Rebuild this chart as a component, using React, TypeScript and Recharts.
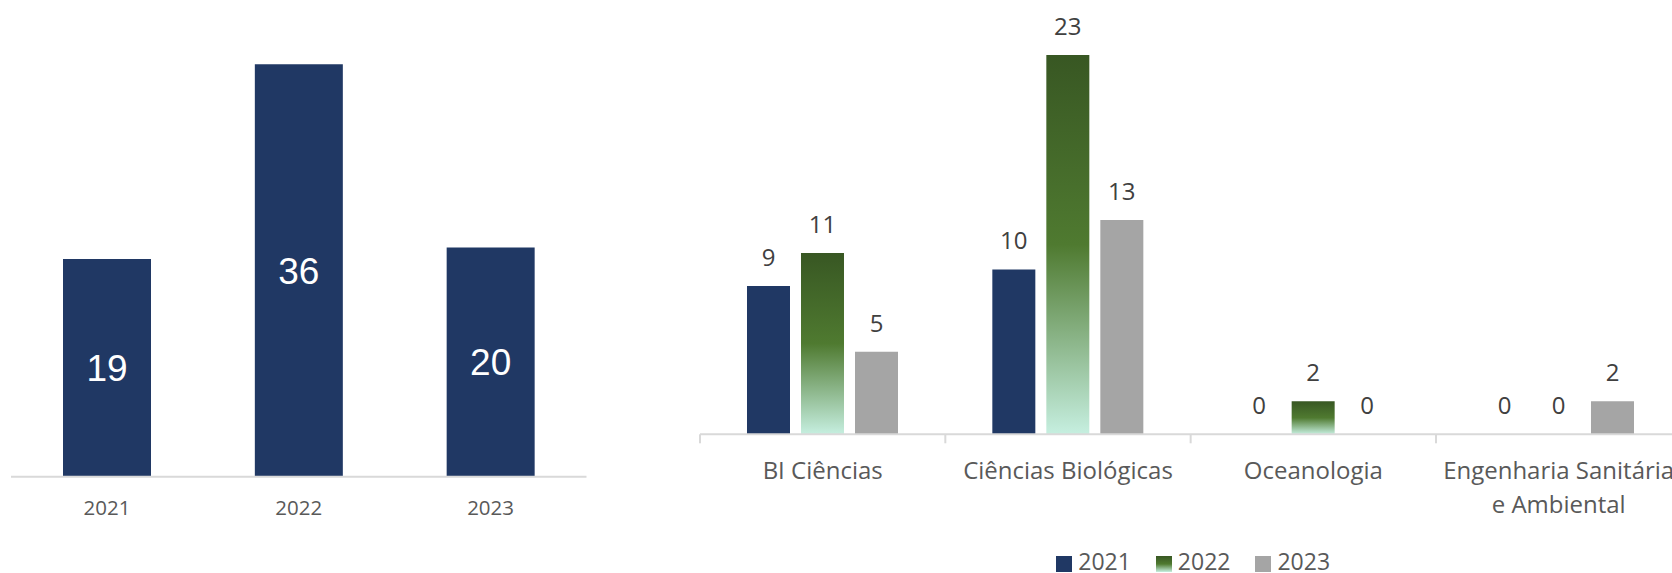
import React from 'react';
import { BarChart, Bar, XAxis, YAxis, LabelList, Legend } from 'recharts';

const years = ['2021', '2022', '2023'];
const totals = [19, 36, 20];

const courses = ['BI Ciências', 'Ciências Biológicas', 'Oceanologia', 'Engenharia Sanitária\ne Ambiental'];
const s2021 = [9, 10, 0, 0];
const s2022 = [11, 23, 2, 0];
const s2023 = [5, 13, 0, 2];

const NAVY = '#203864';
const GREY = '#a5a5a5';
const TEXT = '#595959';
const LABEL = '#404040';
const AXIS = '#d9d9d9';
const FONT = '"Open Sans", "Noto Sans", sans-serif';

const leftData = years.map((y, i) => ({ year: y, total: totals[i] }));
const rightData = courses.map((c, i) => ({ course: c, y2021: s2021[i], y2022: s2022[i], y2023: s2023[i] }));

const L_PLOT_W = 575.5;
const R_PLOT_W = 981.33;
const BAND = R_PLOT_W / courses.length;

const LeftTick = (props: any) => {
  const { x, y, payload } = props;
  return (
    <text x={x} y={y + 38} textAnchor="middle" fill={TEXT} fontSize={20.5} fontFamily={FONT}>
      {payload.value}
    </text>
  );
};

const RightTick = (props: any) => {
  const { x, y, payload, index } = props;
  const lines = String(payload.value).split('\n');
  return (
    <g>
      <line x1={x - BAND / 2} x2={x - BAND / 2} y1={y} y2={y + 9} stroke={AXIS} strokeWidth={2} />
      {index === courses.length - 1 && (
        <line x1={x + BAND / 2} x2={x + BAND / 2} y1={y} y2={y + 9} stroke={AXIS} strokeWidth={2} />
      )}
      <text textAnchor="middle" fill={TEXT} fontSize={24} fontFamily={FONT}>
        {lines.map((l, i) => (
          <tspan key={i} x={x} y={y + 45 + i * 34}>
            {l}
          </tspan>
        ))}
      </text>
    </g>
  );
};

const TopLabel = (props: any) => {
  const { x, y, width, value } = props;
  if (value === null || value === undefined) return null;
  return (
    <text x={x + width / 2} y={y - 20} textAnchor="middle" fill={LABEL} fontSize={24} fontFamily={FONT}>
      {value}
    </text>
  );
};

const legendItems = [
  { name: '2021', bg: NAVY },
  { name: '2022', bg: 'linear-gradient(to bottom, #385723 0%, #4f7a30 50%, #c6efe0 100%)' },
  { name: '2023', bg: GREY },
];

const LegendContent = () => (
  <div
    style={{
      height: 24,
      display: 'flex',
      justifyContent: 'center',
      alignItems: 'flex-start',
      paddingLeft: 5,
      fontFamily: FONT,
      fontSize: 23,
      lineHeight: '24px',
      color: TEXT,
    }}
  >
    {legendItems.map((it, i) => (
      <div key={it.name} style={{ display: 'flex', alignItems: 'flex-start', marginLeft: i === 0 ? 0 : 25 }}>
        <div style={{ width: 16, height: 16, marginTop: 7.5, background: it.bg }} />
        <span style={{ marginLeft: 6 }}>{it.name}</span>
      </div>
    ))}
  </div>
);

export default function App() {
  return (
    <div style={{ position: 'relative', width: 1672, height: 573, overflow: 'hidden', background: '#fff' }}>
      <style>{'body{margin:0;overflow:hidden;}'}</style>
      <div style={{ position: 'absolute', left: 0, top: 0 }}>
        <BarChart
          width={L_PLOT_W + 22}
          height={526.7}
          data={leftData}
          margin={{ top: 18.3, right: 11, left: 11, bottom: 0 }}
        >
          <XAxis
            dataKey="year"
            height={50}
            axisLine={{ stroke: AXIS, strokeWidth: 2 }}
            tickLine={false}
            tickSize={0}
            tickMargin={0}
            interval={0}
            tick={<LeftTick />}
          />
          <YAxis hide domain={[0, 40]} />
          <Bar dataKey="total" fill={NAVY} barSize={88} isAnimationActive={false}>
            <LabelList
              dataKey="total"
              position="center"
              fill="#ffffff"
              fontSize={37}
              fontFamily='"Liberation Sans", Arial, sans-serif'
            />
          </Bar>
        </BarChart>
      </div>
      <div style={{ position: 'absolute', left: 690, top: 0 }}>
        <BarChart
          width={R_PLOT_W + 20}
          height={572.5}
          data={rightData}
          margin={{ top: 22.05, right: 10, left: 10, bottom: 0 }}
          barGap={11}
        >
          <defs>
            <linearGradient id="g2022" x1="0" y1="0" x2="0" y2="1">
              <stop offset="0%" stopColor="#385723" />
              <stop offset="50%" stopColor="#4f7a30" />
              <stop offset="100%" stopColor="#c6efe0" />
            </linearGradient>
          </defs>
          <XAxis
            dataKey="course"
            height={114.2}
            axisLine={{ stroke: AXIS, strokeWidth: 2 }}
            tickLine={false}
            tickSize={0}
            tickMargin={0}
            interval={0}
            tick={<RightTick />}
          />
          <YAxis hide domain={[0, 25]} />
          <Legend verticalAlign="bottom" content={<LegendContent />} />
          <Bar dataKey="y2021" name="2021" fill={NAVY} barSize={43} minPointSize={0.01} isAnimationActive={false}>
            <LabelList dataKey="y2021" content={<TopLabel />} />
          </Bar>
          <Bar dataKey="y2022" name="2022" fill="url(#g2022)" barSize={43} minPointSize={0.01} isAnimationActive={false}>
            <LabelList dataKey="y2022" content={<TopLabel />} />
          </Bar>
          <Bar dataKey="y2023" name="2023" fill={GREY} barSize={43} minPointSize={0.01} isAnimationActive={false}>
            <LabelList dataKey="y2023" content={<TopLabel />} />
          </Bar>
        </BarChart>
      </div>
    </div>
  );
}
